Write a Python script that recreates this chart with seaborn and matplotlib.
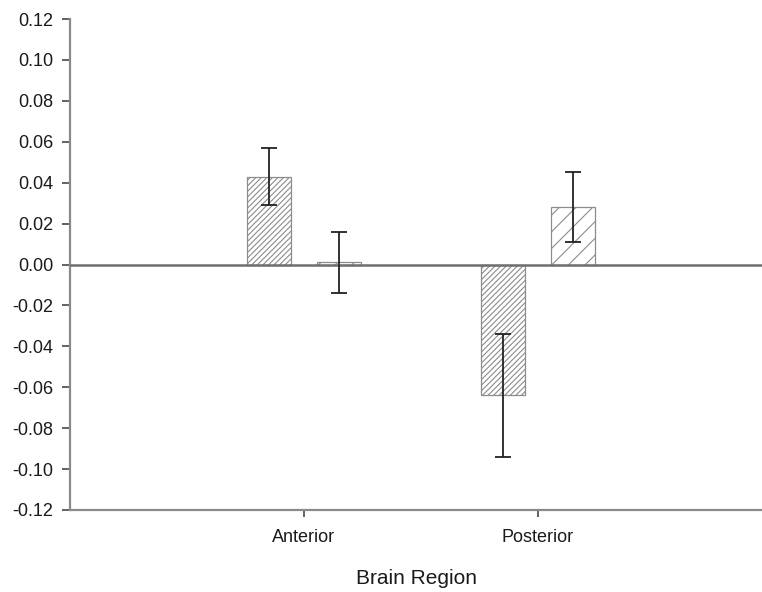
import matplotlib
matplotlib.use("Agg")
import matplotlib.pyplot as plt
import seaborn as sns
import pandas as pd

# Mean change per brain region for the two conditions, with error bars
regions = ["Anterior", "Posterior"]
conditions = ["Condition 1", "Condition 2"]
values_cond1 = [0.043, -0.064]
errors_cond1 = [0.014, 0.030]
values_cond2 = [0.001, 0.028]
errors_cond2 = [0.0147, 0.017]
y_ticks = [-0.12, -0.10, -0.08, -0.06, -0.04, -0.02, 0.00, 0.02, 0.04, 0.06, 0.08, 0.10, 0.12]

df = pd.DataFrame({
    "region": regions * 2,
    "condition": [conditions[0]] * 2 + [conditions[1]] * 2,
    "value": values_cond1 + values_cond2,
})
errors = {conditions[0]: errors_cond1, conditions[1]: errors_cond2}
hatches = {conditions[0]: "//////", conditions[1]: "//"}

sns.set_theme(style="white")
plt.rcParams["font.family"] = ["Liberation Sans", "DejaVu Sans"]
plt.rcParams["hatch.linewidth"] = 0.8
plt.rcParams["hatch.color"] = "#808080"

fig = plt.figure(figsize=(7.62, 5.92), dpi=100)
ax = fig.add_axes([70 / 762, 1 - 510 / 592, 692 / 762, 491 / 592])

sns.barplot(data=df, x="region", y="value", hue="condition", order=regions,
            hue_order=conditions, width=0.6, gap=0.375, errorbar=None,
            palette=["white", "white"], edgecolor="#909090",
            linewidth=0.9, legend=False, ax=ax)

for cond, container in zip(conditions, ax.containers):
    for bar, err in zip(container, errors[cond]):
        bar.set_hatch(hatches[cond])
        bar.set_facecolor("white")
        bar.set_edgecolor("#8c8c8c")
        cx = bar.get_x() + bar.get_width() / 2
        val = bar.get_y() + bar.get_height()
        ax.errorbar(cx, val, yerr=err, fmt="none", ecolor="#222222",
                    elinewidth=1.3, capsize=6, capthick=1.3, zorder=5)

ax.axhline(0, color="#6e6e6e", linewidth=1.8, zorder=4)

ax.set_ylim(-0.12, 0.12)
ax.set_xlim(-1, 1.957)
ax.set_yticks(y_ticks)
ax.set_yticklabels([f"{t:.2f}" for t in y_ticks])

for side in ["top", "right"]:
    ax.spines[side].set_visible(False)
for side in ["left", "bottom"]:
    ax.spines[side].set_color("#8a8a8a")
    ax.spines[side].set_linewidth(1.6)

ax.tick_params(axis="y", direction="out", length=6, width=1.3, color="#555555",
               labelsize=13, pad=6, left=True)
ax.tick_params(axis="x", direction="out", length=5, width=1.3, color="#555555",
               labelsize=13, pad=9, bottom=True)
for lbl in ax.get_yticklabels() + ax.get_xticklabels():
    lbl.set_color("#1a1a1a")

ax.set_xlabel("Brain Region", fontsize=15, color="#1a1a1a", labelpad=16)
ax.set_ylabel("")

fig.savefig("out.png", dpi=100)
